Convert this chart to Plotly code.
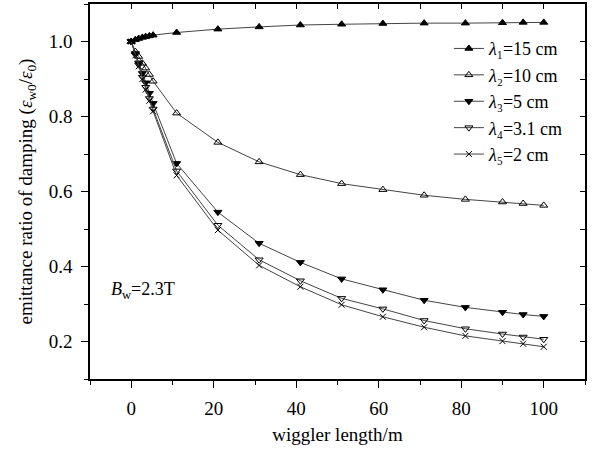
import plotly.graph_objects as go

# wiggler length (m)
x_len = [0, 1, 1.8, 2.7, 3.5, 4.4, 5.3, 11, 21, 31, 41, 51, 61, 71, 81, 90, 95, 100]

lam1 = [1.0, 1.005, 1.008, 1.011, 1.013, 1.015, 1.017, 1.024, 1.033, 1.039, 1.044, 1.046, 1.048, 1.049, 1.049, 1.050, 1.051, 1.051]
lam2 = [1.0, 0.973, 0.960, 0.942, 0.929, 0.912, 0.894, 0.809, 0.731, 0.679, 0.645, 0.621, 0.605, 0.590, 0.579, 0.572, 0.568, 0.563]
lam3 = [1.0, 0.968, 0.943, 0.915, 0.890, 0.862, 0.835, 0.675, 0.545, 0.462, 0.411, 0.367, 0.338, 0.310, 0.291, 0.278, 0.272, 0.267]
lam4 = [1.0, 0.965, 0.938, 0.905, 0.878, 0.848, 0.820, 0.655, 0.510, 0.418, 0.362, 0.315, 0.287, 0.256, 0.234, 0.220, 0.212, 0.206]
lam5 = [1.0, 0.963, 0.934, 0.900, 0.872, 0.842, 0.814, 0.643, 0.497, 0.403, 0.346, 0.298, 0.266, 0.238, 0.215, 0.201, 0.194, 0.186]

names = ["<i>λ</i>₁=15 cm", "<i>λ</i>₂=10 cm", "<i>λ</i>₃=5 cm",
         "<i>λ</i>₄=3.1 cm", "<i>λ</i>₅=2 cm"]
series = [lam1, lam2, lam3, lam4, lam5]
symbols = ["triangle-up", "triangle-up-open", "triangle-down", "triangle-down-open", "x-thin-open"]
sizes = [7, 7, 7, 7, 6]

FONT = "Liberation Serif, Times New Roman, serif"
FS = 19

fig = go.Figure()
for nm, ys, sym, sz in zip(names, series, symbols, sizes):
    fig.add_trace(go.Scatter(
        x=x_len, y=ys, name=nm, mode="lines+markers",
        line=dict(color="#444444", width=1),
        marker=dict(symbol=sym, size=sz, color="black",
                    line=dict(color="black", width=1)),
    ))

# invisible trace for mirrored axes
fig.add_trace(go.Scatter(x=[None], y=[None], xaxis="x2", yaxis="y2",
                         showlegend=False, hoverinfo="skip"))

fig.update_layout(
    width=598, height=453,
    margin=dict(l=90, r=13, t=4, b=74),
    paper_bgcolor="white", plot_bgcolor="white",
    font=dict(family=FONT, size=FS, color="black"),
    showlegend=True,
    legend=dict(x=0.725, y=0.93, xanchor="left", yanchor="top",
                bgcolor="rgba(0,0,0,0)", font=dict(size=18, family=FONT),
                itemwidth=30, tracegroupgap=0),
    xaxis=dict(range=[-10, 110], tick0=0, dtick=20, ticks="outside", ticklen=7,
               tickwidth=1.2, tickcolor="black", showline=True, linecolor="black",
               linewidth=1.5, showgrid=False, zeroline=False, ticklabelstandoff=4,
               minor=dict(ticks="outside", ticklen=4, dtick=10, tick0=0,
                          tickcolor="black", tickwidth=1.2, showgrid=False),
               title=dict(text="wiggler length/m", font=dict(size=FS), standoff=10),
               tickfont=dict(size=FS)),
    yaxis=dict(range=[0.1, 1.1], tick0=0.2, dtick=0.2, ticks="outside", ticklen=7,
               tickwidth=1.2, tickcolor="black", showline=True, linecolor="black",
               linewidth=1.5, showgrid=False, zeroline=False, tickformat=".1f",
               ticklabelstandoff=5,
               minor=dict(ticks="outside", ticklen=4, dtick=0.1, tick0=0.1,
                          tickcolor="black", tickwidth=1.2, showgrid=False),
               title=dict(text="emittance ratio of damping (<i>ε</i><sub>w0</sub>/<i>ε</i><sub>0</sub>)",
                          font=dict(size=FS), standoff=11),
               tickfont=dict(size=FS)),
    xaxis2=dict(range=[-10, 110], overlaying="x", side="top", anchor="y",
                tick0=0, dtick=10, ticks="inside", ticklen=5, tickwidth=1.2,
                tickcolor="black", showticklabels=False, showline=True,
                linecolor="black", linewidth=1.5, showgrid=False, zeroline=False),
    yaxis2=dict(range=[0.1, 1.1], overlaying="y", side="right", anchor="x",
                tick0=0.1, dtick=0.1, ticks="inside", ticklen=5, tickwidth=1.2,
                tickcolor="black", showticklabels=False, showline=True,
                linecolor="black", linewidth=1.5, showgrid=False, zeroline=False),
)

fig.add_annotation(x=-5.5, y=0.335, xref="x", yref="y", xanchor="left", yanchor="middle",
                   text="<i>B</i><sub>w</sub>=2.3T", showarrow=False,
                   font=dict(size=18, family=FONT, color="black"))

fig.write_html("out.html")
